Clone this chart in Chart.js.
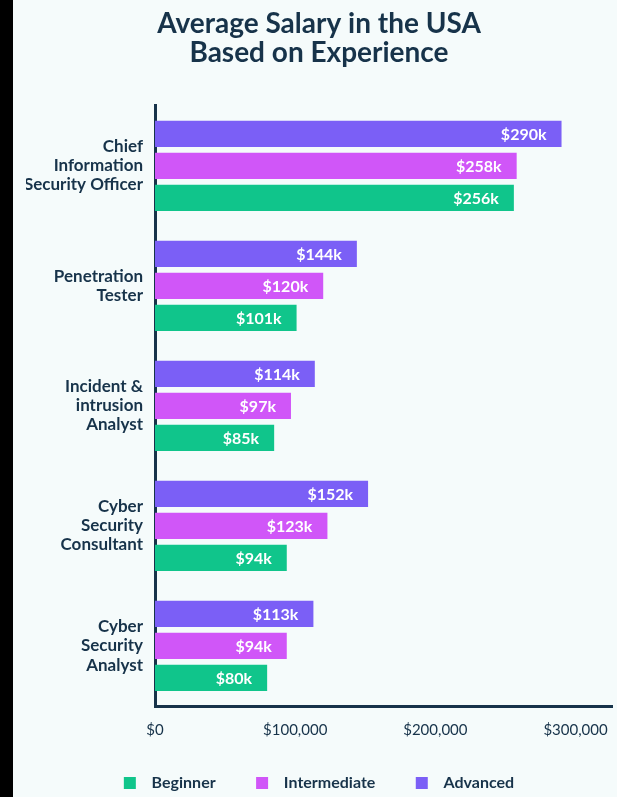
<!DOCTYPE html>
<html>
<head>
<meta charset="utf-8">
<script src="https://cdn.jsdelivr.net/npm/chart.js@4"></script>
<style>
  html, body { margin: 0; padding: 0; background: #000; overflow: hidden; }
  #wrap { position: absolute; left: 13px; top: 0; width: 604px; height: 801px; background: #f5fbfb; }
</style>
</head>
<body>
<div id="wrap"><canvas id="salaryChart"></canvas></div>
<script>
const roles = [
  ['Chief', 'Information', 'Security Officer'],
  ['Penetration', 'Tester'],
  ['Incident &', 'intrusion', 'Analyst'],
  ['Cyber', 'Security', 'Consultant'],
  ['Cyber', 'Security', 'Analyst']
];
const beginner = [256000, 101000, 85000, 94000, 80000];
const intermediate = [258000, 120000, 97000, 123000, 94000];
const advanced = [290000, 144000, 114000, 152000, 113000];
const xTicks = [0, 100000, 200000, 300000];

const navy = '#17334a';
Chart.defaults.font.family = 'Lato, "Open Sans", sans-serif';
Chart.defaults.color = navy;

// white "$290k" style labels inside the end of every bar
const barLabels = {
  id: 'barLabels',
  afterDatasetsDraw(chart) {
    const ctx = chart.ctx;
    ctx.save();
    ctx.font = 'bold 16px Lato, sans-serif';
    ctx.fillStyle = '#ffffff';
    ctx.textAlign = 'right';
    ctx.textBaseline = 'middle';
    chart.data.datasets.forEach((ds, i) => {
      chart.getDatasetMeta(i).data.forEach((bar, j) => {
        ctx.fillText('$' + Math.round(ds.data[j] / 1000) + 'k', bar.x - 15, bar.y + 1);
      });
    });
    ctx.restore();
  }
};

new Chart(document.getElementById('salaryChart'), {
  type: 'bar',
  data: {
    labels: roles,
    datasets: [
      { label: 'Advanced', data: advanced, backgroundColor: '#7b5ff6' },
      { label: 'Intermediate', data: intermediate, backgroundColor: '#d056f8' },
      { label: 'Beginner', data: beginner, backgroundColor: '#10c58b' }
    ]
  },
  options: {
    indexAxis: 'y',
    responsive: true,
    maintainAspectRatio: false,
    animation: false,
    categoryPercentage: 0.8,
    barPercentage: 0.82,
    layout: { padding: { left: 13, right: 5, bottom: 0 } },
    scales: {
      x: {
        min: 0,
        max: 326000,
        grid: { display: false, drawTicks: false },
        border: { color: navy, width: 3 },
        afterBuildTicks(axis) {
          axis.ticks = xTicks.map(v => ({ value: v }));
        },
        // let the last tick label overhang so the axis runs to the card edge
        afterFit(scale) { scale.paddingRight = 0; },
        ticks: {
          padding: 15,
          font: { size: 15 },
          callback: v => '$' + v.toLocaleString('en-US')
        }
      },
      y: {
        grid: { display: false, drawTicks: false },
        border: { color: navy, width: 3 },
        afterFit(scale) { scale.width = 129; },
        ticks: {
          padding: 12,
          font: { size: 17, weight: 'bold', lineHeight: 1.12 }
        }
      }
    },
    plugins: {
      title: {
        display: true,
        text: ['Average Salary in the USA', 'Based on Experience'],
        color: navy,
        font: { size: 28, weight: 'bold', lineHeight: 1.05 },
        padding: { top: 9, bottom: 38 }
      },
      legend: {
        position: 'bottom',
        reverse: true,
        labels: {
          boxWidth: 12,
          boxHeight: 12,
          padding: 21,
          color: navy,
          font: { size: 16, weight: 'bold' },
          generateLabels(chart) {
            const items = Chart.defaults.plugins.legend.labels.generateLabels(chart);
            // items are still in dataset order here; Advanced (index 0) ends the row
            items.forEach((it, i) => {
              it.text = '  ' + it.text + (i > 0 ? '     ' : '');
              it.lineWidth = 0;
            });
            return items;
          }
        }
      },
      tooltip: { enabled: false }
    }
  },
  plugins: [barLabels]
});
</script>
</body>
</html>
